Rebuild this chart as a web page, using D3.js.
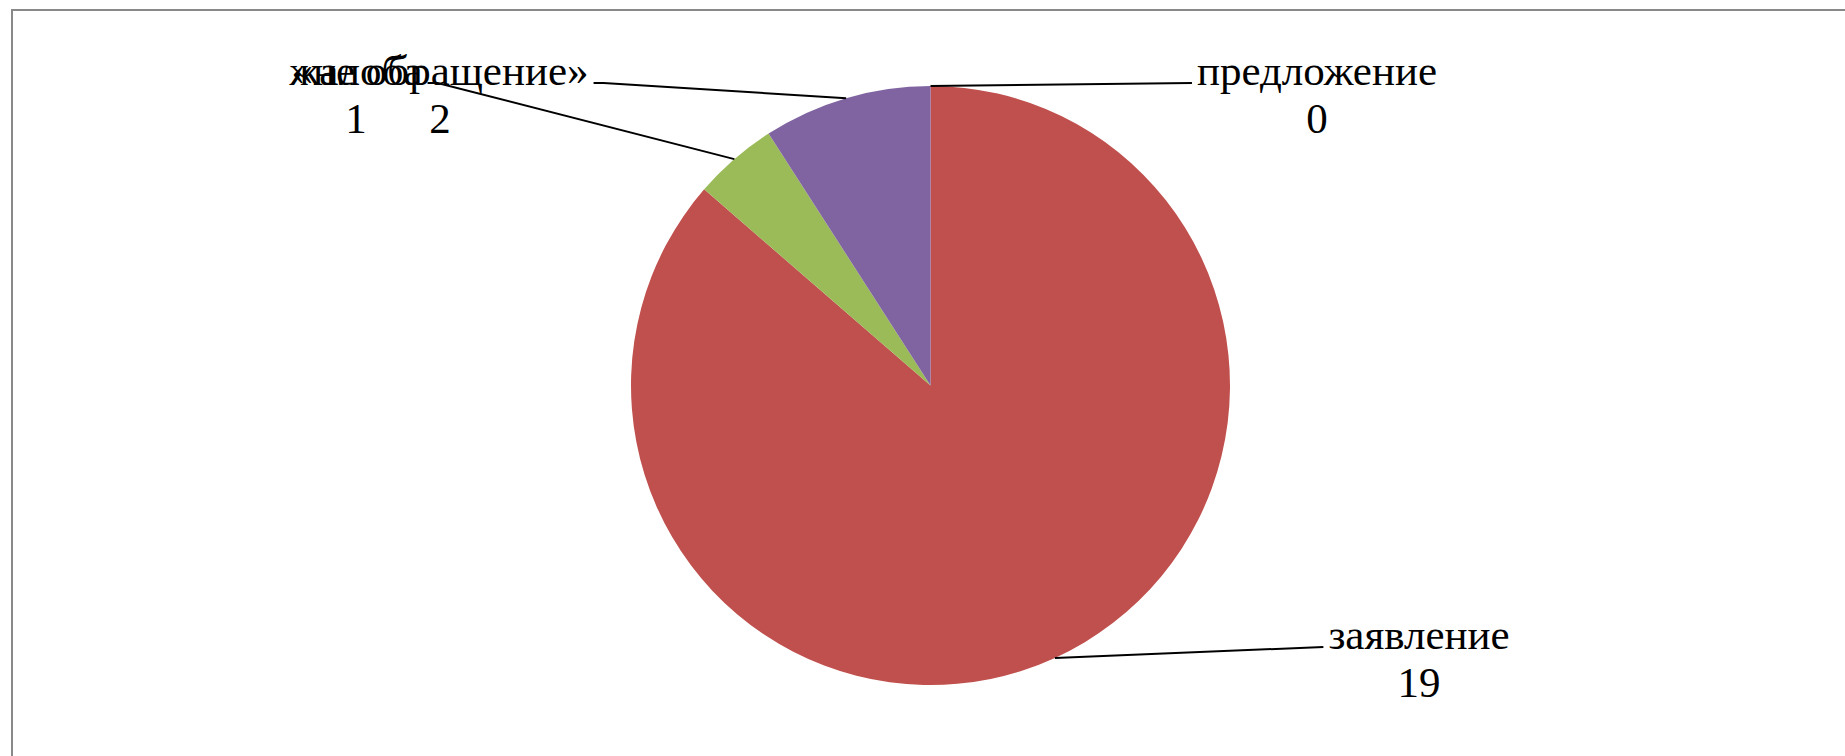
<!DOCTYPE html>
<html>
<head>
<meta charset="utf-8">
<script src="https://cdn.jsdelivr.net/npm/d3@7"></script>
<style>
  html, body { margin: 0; padding: 0; background: #fff; overflow: hidden; }
  text { font-family: "Liberation Serif", "Times New Roman", serif; }
</style>
</head>
<body>
<script>
var w = 1845;
var h = 756;

// data
var categories = ["предложение", "заявление", "жалоба", "«не обращение»"];
var values = [0, 19, 1, 2];
var colors = ["#4F81BD", "#C0504D", "#9BBB59", "#8064A2"];

// label centres (x) and side of the leader
var labelX = [1317, 1419, 356, 440];
var labelY = [85, 649, 85, 85];
var labelSide = ["right", "right", "left", "left"];

var cx = 930.5, cy = 385.5, r = 299.5;
var fontSize = 43;
var lineGap = 48;

var svg = d3.select("body")
    .append("svg")
    .attr("width", w)
    .attr("height", h);

// chart area border (runs off the right and bottom edge)
svg.append("rect")
    .attr("x", 12)
    .attr("y", 10)
    .attr("width", w)
    .attr("height", h)
    .attr("fill", "none")
    .attr("stroke", "#898989")
    .attr("stroke-width", 2);

var pie = d3.pie().sort(null).value(function(d){ return d; });
var arcs = pie(values);

var arc = d3.arc().innerRadius(0).outerRadius(r);
var edge = d3.arc().innerRadius(r).outerRadius(r);

var g = svg.append("g").attr("transform", "translate(" + cx + "," + cy + ")");

g.selectAll("path")
    .data(arcs)
    .enter()
    .append("path")
    .attr("d", arc)
    .attr("fill", function(d, i){ return colors[i]; });

// labels: name on first line, value below
var labels = svg.selectAll("g.label")
    .data(arcs)
    .enter()
    .append("g")
    .attr("class", "label");

labels.append("text")
    .attr("class", "name")
    .attr("x", function(d, i){ return labelX[i]; })
    .attr("y", function(d, i){ return labelY[i]; })
    .attr("text-anchor", "middle")
    .attr("font-size", fontSize)
    .attr("fill", "#000")
    .text(function(d, i){ return categories[i]; });

labels.append("text")
    .attr("x", function(d, i){ return labelX[i]; })
    .attr("y", function(d, i){ return labelY[i] + lineGap; })
    .attr("text-anchor", "middle")
    .attr("font-size", fontSize)
    .attr("fill", "#000")
    .text(function(d){ return d.value; });

// leader lines from the slice edge to the label
labels.each(function(d, i){
    var box = d3.select(this).select("text.name").node().getBBox();
    var p = edge.centroid(d);
    var sx = cx + p[0], sy = cy + p[1];
    var ex = labelSide[i] == "right" ? box.x - 5 : box.x + box.width + 5;
    var ey = labelY[i] - 2;
    var hx = labelSide[i] == "right" ? ex : ex + 10;
    d3.select(this).insert("path", "text")
        .attr("d", "M" + sx + "," + sy + "L" + hx + "," + ey + "L" + ex + "," + ey)
        .attr("fill", "none")
        .attr("stroke", "#000")
        .attr("stroke-width", 2);
});
</script>
</body>
</html>
